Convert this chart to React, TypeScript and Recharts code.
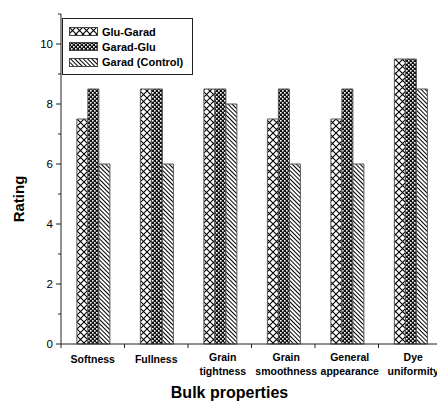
import { BarChart, Bar, XAxis, YAxis, Label } from 'recharts';

const CATEGORIES = ['Softness', 'Fullness', 'Grain\ntightness', 'Grain\nsmoothness', 'General\nappearance', 'Dye\nuniformity'];
const GLU_GARAD = [7.5, 8.5, 8.5, 7.5, 7.5, 9.5];
const GARAD_GLU = [8.5, 8.5, 8.5, 8.5, 8.5, 9.5];
const CONTROL = [6, 6, 8, 6, 6, 8.5];
const Y_TICKS = [0, 1, 2, 3, 4, 5, 6, 7, 8, 9, 10, 11];

const SERIES = [
  { key: 'gluGarad', name: 'Glu-Garad', fill: 'url(#pat-cross)' },
  { key: 'garadGlu', name: 'Garad-Glu', fill: 'url(#pat-check)' },
  { key: 'control', name: 'Garad (Control)', fill: 'url(#pat-diag)' },
];

const FONT = '"Liberation Sans", Arial, sans-serif';
const W = 445;
const H = 403;
const MARGIN = { top: 14, right: 3, left: 0, bottom: 0 };
const Y_AXIS_W = 61;
const X_AXIS_H = 59;
const PLOT_LEFT = MARGIN.left + Y_AXIS_W;
const PLOT_RIGHT = W - MARGIN.right;
const PLOT_BOTTOM = H - MARGIN.bottom - X_AXIS_H;
const BAND = (PLOT_RIGHT - PLOT_LEFT) / CATEGORIES.length;

const data = CATEGORIES.map((name, i) => ({
  name,
  gluGarad: GLU_GARAD[i],
  garadGlu: GARAD_GLU[i],
  control: CONTROL[i],
}));

function XTick(props: any) {
  const { payload, index } = props;
  const cx = payload.coordinate;
  const lines = String(payload.value).split('\n');
  const y0 = lines.length > 1 ? PLOT_BOTTOM + 17 : PLOT_BOTTOM + 19;
  return (
    <g>
      <line x1={cx - BAND / 2} x2={cx - BAND / 2} y1={PLOT_BOTTOM} y2={PLOT_BOTTOM + 4} stroke="#222" />
      {index === CATEGORIES.length - 1 && (
        <line x1={cx + BAND / 2} x2={cx + BAND / 2} y1={PLOT_BOTTOM} y2={PLOT_BOTTOM + 4} stroke="#222" />
      )}
      <text x={cx} y={y0} textAnchor="middle" fontFamily={FONT} fontWeight="bold" fontSize={10.5} fill="#000">
        {lines.map((l, i) => (
          <tspan key={i} x={cx + (lines.length > 1 ? 3 : 0)} dy={i === 0 ? 0 : 14}>
            {l}
          </tspan>
        ))}
      </text>
    </g>
  );
}

function YTick(props: any) {
  const { payload } = props;
  const y = payload.coordinate;
  const major = payload.value % 2 === 0;
  return (
    <g>
      <line x1={PLOT_LEFT - (major ? 5 : 3)} x2={PLOT_LEFT} y1={y} y2={y} stroke="#222" />
      {major && (
        <text x={PLOT_LEFT - 8} y={y} dy={4} textAnchor="end" fontFamily={FONT} fontSize={11.5} fill="#000">
          {payload.value}
        </text>
      )}
    </g>
  );
}

function LegendBox() {
  return (
    <div
      style={{
        position: 'absolute',
        left: 62,
        top: 18,
        border: '1px solid #222',
        background: '#fff',
        padding: '5px 6px 4px 6px',
        boxSizing: 'border-box',
        width: 131,
      }}
    >
      {SERIES.map((s) => (
        <div key={s.key} style={{ display: 'flex', alignItems: 'center', height: 15.3 }}>
          <svg width={29} height={9} style={{ marginRight: 4 }}>
            <rect x={0.5} y={0.5} width={28} height={8} fill={s.fill} stroke="#444" />
          </svg>
          <span style={{ fontFamily: FONT, fontWeight: 'bold', fontSize: 11, color: '#000' }}>{s.name}</span>
        </div>
      ))}
    </div>
  );
}

export default function App() {
  return (
    <div style={{ position: 'relative', width: W, height: H, margin: '-8px 0 0 -8px', background: '#fff' }}>
      <svg width={0} height={0} style={{ position: 'absolute' }}>
        <defs>
          <pattern id="pat-cross" patternUnits="userSpaceOnUse" width={7} height={7}>
            <rect width={7} height={7} fill="#fff" />
            <path d="M0,0 L7,7 M7,0 L0,7" stroke="#000" strokeWidth={1.1} />
          </pattern>
          <pattern id="pat-check" patternUnits="userSpaceOnUse" width={4} height={4}>
            <rect width={4} height={4} fill="#111" />
            <rect x={0} y={0} width={1.6} height={1.6} fill="#fff" />
            <rect x={2} y={2} width={1.6} height={1.6} fill="#fff" />
          </pattern>
          <pattern id="pat-diag" patternUnits="userSpaceOnUse" width={3} height={3} patternTransform="rotate(-45)">
            <rect width={3} height={3} fill="#fff" />
            <line x1={0.5} y1={0} x2={0.5} y2={3} stroke="#000" strokeWidth={1} />
          </pattern>
        </defs>
      </svg>
      <BarChart
        width={W}
        height={H}
        data={data}
        margin={MARGIN}
        barCategoryGap="25%"
        barGap={0}
      >
        <XAxis
          dataKey="name"
          height={X_AXIS_H}
          interval={0}
          tickLine={false}
          axisLine={{ stroke: '#222' }}
          tick={<XTick />}
        >
          <Label
            value="Bulk properties"
            position="insideBottom"
            offset={5}
            dx={-22}
            style={{ fontFamily: FONT, fontWeight: 'bold', fontSize: 16, fill: '#000' }}
          />
        </XAxis>
        <XAxis
          xAxisId="top"
          dataKey="name"
          orientation="top"
          height={0}
          tick={false}
          tickLine={false}
          axisLine={{ stroke: '#222' }}
        />
        <YAxis
          width={Y_AXIS_W}
          domain={[0, 11]}
          ticks={Y_TICKS}
          interval={0}
          tickLine={false}
          axisLine={{ stroke: '#222' }}
          tick={<YTick />}
        >
          <Label
            value="Rating"
            angle={-90}
            position="insideLeft"
            offset={19}
            dy={20}
            style={{ fontFamily: FONT, fontWeight: 'bold', fontSize: 15, fill: '#000', textAnchor: 'middle' }}
          />
        </YAxis>
        <YAxis
          yAxisId="right"
          orientation="right"
          width={0}
          domain={[0, 11]}
          tick={false}
          tickLine={false}
          axisLine={{ stroke: '#222' }}
        />
        {SERIES.map((s) => (
          <Bar
            key={s.key}
            dataKey={s.key}
            name={s.name}
            fill={s.fill}
            stroke="#555"
            strokeWidth={1}
            isAnimationActive={false}
          />
        ))}
      </BarChart>
      <LegendBox />
    </div>
  );
}
